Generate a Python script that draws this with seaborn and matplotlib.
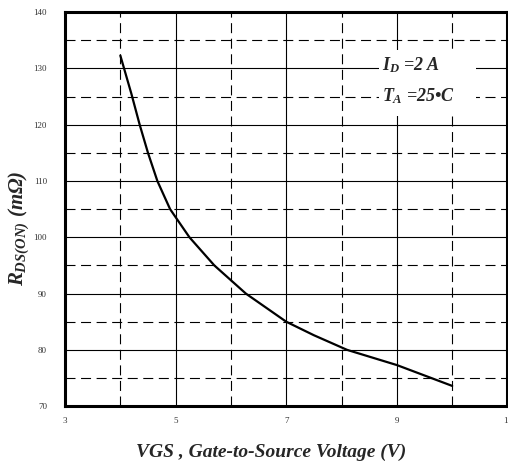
import numpy as np
import pandas as pd
import seaborn as sns
import matplotlib
matplotlib.use('Agg')
import matplotlib.pyplot as plt
from matplotlib.patches import Rectangle

# values
vgs = [4.0, 4.2, 4.35, 4.5, 4.67, 4.9, 5.25, 5.7, 6.27, 7.0, 7.5, 8.1, 9.0, 10.0]
rds = [132.3, 125.5, 120.0, 115.0, 110.0, 105.0, 100.0, 95.0, 90.0, 85.0, 82.6, 80.0, 77.3, 73.6]
x_major = [3, 5, 7, 9, 11]
x_minor = [4, 6, 8, 10]
y_major = [70, 80, 90, 100, 110, 120, 130, 140]
y_minor = [75, 85, 95, 105, 115, 125, 135]

sns.set_style('white')
plt.rcParams['font.family'] = ['Liberation Serif', 'DejaVu Serif']
plt.rcParams['mathtext.fontset'] = 'custom'
plt.rcParams['mathtext.it'] = 'Liberation Serif:bold:italic'
plt.rcParams['mathtext.rm'] = 'Liberation Serif:bold:italic'
plt.rcParams['mathtext.bf'] = 'Liberation Serif:bold:italic'

df = pd.DataFrame({'VGS': vgs, 'RDS': rds})

fig = plt.figure(figsize=(5.08, 4.69), dpi=100)
ax = fig.add_axes([0.128, 0.134, 0.871, 0.840])

# grid: solid at major, dashed at minor
dash = (0, (9, 5))
for v in x_major[1:-1]:
    ax.axvline(v, color='black', lw=0.8, zorder=1)
for v in x_minor:
    ax.axvline(v, color='black', lw=0.8, ls=dash, zorder=1)
for v in y_major[1:-1]:
    ax.axhline(v, color='black', lw=0.8, zorder=1)
for v in y_minor:
    ax.axhline(v, color='black', lw=0.8, ls=dash, zorder=1)

sns.lineplot(data=df, x='VGS', y='RDS', color='black', lw=1.6, ax=ax, zorder=3)

ax.set_xlim(3, 11)
ax.set_ylim(70, 140)
ax.set_xticks(x_major)
ax.set_xticklabels([str(v) for v in x_major])
ax.set_yticks(y_major)
ax.tick_params(axis='both', length=0, labelsize=6.5, labelcolor='#333333')
ax.tick_params(axis='x', pad=8)
ax.tick_params(axis='y', pad=13)
for s in ax.spines.values():
    s.set_linewidth(2.2)
    s.set_color('black')

ax.set_xlabel('VGS , Gate-to-Source Voltage (V)', fontsize=14, fontweight='bold',
              fontstyle='italic')
ax.xaxis.set_label_coords(0.465, -0.117)
ax.xaxis.label.set_va('center')
ax.set_ylabel(r'$R_{DS(ON)}$ $(m\Omega)$', fontsize=15)
ax.yaxis.set_label_coords(-0.106, 0.452)
ax.yaxis.label.set_va('center')

# condition box
ax.add_patch(Rectangle((8.68, 121.6), 1.75, 11.7, facecolor='white',
                       edgecolor='none', zorder=2))
ax.text(8.74, 127.9, r'$I_{D}$ =2 A' + '\n' + r'$T_{A}$ =25•C', fontsize=13,
        fontweight='bold', fontstyle='italic', ha='left', va='center',
        linespacing=1.75, zorder=4)

fig.savefig('out.png', dpi=100)
